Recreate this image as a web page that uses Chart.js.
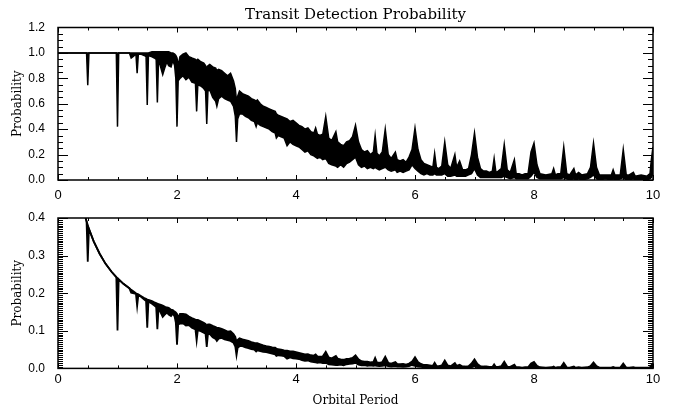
<!DOCTYPE html>
<html>
<head>
<meta charset="utf-8">
<title>Transit Detection Probability</title>
<script src="https://cdn.jsdelivr.net/npm/chart.js@4.4.0/dist/chart.umd.min.js"></script>
<style>
  body { margin: 0; background: #fff; }
  .wrap { position: relative; width: 673px; height: 407px; }
  canvas { position: absolute; left: 0; }
  #topChart { top: 0; }
  #bottomChart { top: 200px; }
</style>
</head>
<body>
<div class="wrap">
  <canvas id="topChart" width="673" height="210"></canvas>
  <canvas id="bottomChart" width="673" height="207"></canvas>
</div>
<script>
// Orbital period (days) sample positions, shared by both panels
const period = [
  0, 0.40, 0.45, 0.48, 0.50, 0.52, 0.60, 0.70, 0.80, 0.90,
  0.98, 1.00, 1.02, 1.10, 1.20, 1.23, 1.26, 1.31, 1.33, 1.35,
  1.40, 1.45, 1.48, 1.50, 1.52, 1.58, 1.62, 1.65, 1.67, 1.69,
  1.73, 1.76, 1.80, 1.83, 1.86, 1.90, 1.93, 1.96, 1.98, 2.00,
  2.02, 2.05, 2.10, 2.15, 2.20, 2.25, 2.31, 2.33, 2.35, 2.40,
  2.45, 2.48, 2.50, 2.52, 2.55, 2.60, 2.65, 2.67, 2.70, 2.75,
  2.80, 2.85, 2.90, 2.95, 2.98, 3.00, 3.02, 3.05, 3.10, 3.15,
  3.20, 3.25, 3.30, 3.33, 3.35, 3.40, 3.45, 3.50, 3.55, 3.60,
  3.65, 3.67, 3.70, 3.75, 3.80, 3.85, 3.90, 3.95, 4.00, 4.05,
  4.10, 4.15, 4.20, 4.25, 4.30, 4.33, 4.36, 4.40, 4.45, 4.50,
  4.55, 4.60, 4.67, 4.70, 4.75, 4.80, 4.85, 4.90, 4.95, 5.00,
  5.05, 5.10, 5.15, 5.20, 5.25, 5.30, 5.33, 5.36, 5.40, 5.45,
  5.50, 5.55, 5.60, 5.67, 5.70, 5.75, 5.80, 5.85, 5.90, 5.95,
  6.00, 6.05, 6.10, 6.15, 6.20, 6.25, 6.30, 6.33, 6.36, 6.40,
  6.45, 6.50, 6.55, 6.60, 6.67, 6.70, 6.75, 6.80, 6.85, 6.90,
  6.95, 7.00, 7.05, 7.10, 7.15, 7.20, 7.25, 7.30, 7.33, 7.36,
  7.40, 7.45, 7.50, 7.55, 7.60, 7.67, 7.70, 7.75, 7.80, 7.85,
  7.90, 7.95, 8.00, 8.05, 8.10, 8.20, 8.30, 8.33, 8.36, 8.40,
  8.45, 8.50, 8.55, 8.60, 8.67, 8.70, 8.75, 8.80, 8.90, 8.95,
  9.00, 9.05, 9.10, 9.20, 9.30, 9.33, 9.36, 9.40, 9.45, 9.50,
  9.55, 9.60, 9.67, 9.70, 9.80, 9.90, 9.95, 9.97, 10.0
]

// Top panel: upper and lower edge of the noisy probability band
const topUpper = [
  1, 1, 1, 1, 1, 1, 1, 1, 1, 1,
  1, 1, 1, 1, 1, 1, 1, 1, 1, 1,
  1, 1, 1, 1, 1, 1.01, 1.01, 1.01, 1.01, 1.01,
  1.01, 1.01, 1.01, 1.01, 1.01, 1.0, 1.0, 0.99, 0.98, 0.96,
  0.90, 0.97, 0.99, 1.00, 0.97, 0.96, 0.95, 0.94, 0.95, 0.93,
  0.92, 0.90, 0.88, 0.90, 0.91, 0.89, 0.88, 0.86, 0.87, 0.86,
  0.84, 0.82, 0.84, 0.78, 0.72, 0.62, 0.66, 0.70, 0.68, 0.67,
  0.66, 0.64, 0.63, 0.62, 0.63, 0.60, 0.58, 0.57, 0.56, 0.55,
  0.54, 0.52, 0.51, 0.50, 0.49, 0.48, 0.46, 0.47, 0.45, 0.43,
  0.42, 0.40, 0.41, 0.38, 0.37, 0.41, 0.36, 0.35, 0.36, 0.50,
  0.33, 0.31, 0.38, 0.30, 0.28, 0.27, 0.30, 0.31, 0.34, 0.43,
  0.30, 0.24, 0.22, 0.23, 0.20, 0.22, 0.35, 0.21, 0.19, 0.22,
  0.40, 0.20, 0.17, 0.22, 0.16, 0.15, 0.16, 0.14, 0.18, 0.24,
  0.41, 0.24, 0.16, 0.13, 0.12, 0.11, 0.10, 0.21, 0.10, 0.09,
  0.11, 0.30, 0.12, 0.09, 0.20, 0.10, 0.15, 0.08, 0.08, 0.09,
  0.20, 0.37, 0.18, 0.09, 0.07, 0.07, 0.06, 0.07, 0.17, 0.06,
  0.07, 0.09, 0.28, 0.08, 0.06, 0.16, 0.05, 0.05, 0.04, 0.05,
  0.05, 0.22, 0.29, 0.12, 0.05, 0.04, 0.05, 0.09, 0.04, 0.05,
  0.05, 0.26, 0.05, 0.04, 0.09, 0.04, 0.06, 0.04, 0.05, 0.10,
  0.29, 0.10, 0.04, 0.04, 0.04, 0.08, 0.04, 0.04, 0.04, 0.24,
  0.04, 0.04, 0.06, 0.03, 0.04, 0.03, 0.05, 0.15, 0.26
]
const topLower = [
  1, 1, 1, 1, 0.745, 1, 1, 1, 1, 1,
  1, 0.42, 1, 1, 1, 0.96, 0.97, 0.99, 0.84, 0.99,
  0.99, 0.98, 0.97, 0.59, 0.98, 0.97, 0.96, 0.95, 0.61, 0.95,
  0.88, 0.83, 0.89, 0.93, 0.90, 0.89, 0.94, 0.90, 0.80, 0.42,
  0.78, 0.80, 0.82, 0.79, 0.81, 0.77, 0.76, 0.54, 0.75, 0.74,
  0.72, 0.70, 0.44, 0.70, 0.71, 0.65, 0.62, 0.58, 0.64, 0.66,
  0.64, 0.63, 0.62, 0.58, 0.50, 0.30, 0.48, 0.52, 0.52, 0.50,
  0.49, 0.47, 0.46, 0.42, 0.45, 0.43, 0.42, 0.41, 0.40, 0.38,
  0.37, 0.33, 0.35, 0.34, 0.33, 0.27, 0.30, 0.28, 0.27, 0.26,
  0.24, 0.22, 0.23, 0.20, 0.19, 0.18, 0.17, 0.18, 0.16, 0.17,
  0.13, 0.12, 0.11, 0.10, 0.12, 0.10, 0.13, 0.14, 0.16, 0.18,
  0.12, 0.10, 0.11, 0.09, 0.10, 0.09, 0.10, 0.09, 0.08, 0.09,
  0.10, 0.08, 0.07, 0.08, 0.06, 0.07, 0.06, 0.07, 0.08, 0.12,
  0.09, 0.07, 0.05, 0.04, 0.05, 0.04, 0.04, 0.05, 0.04, 0.04,
  0.04, 0.05, 0.03, 0.03, 0.04, 0.03, 0.03, 0.03, 0.03, 0.04,
  0.05, 0.09, 0.04, 0.02, 0.02, 0.02, 0.02, 0.02, 0.02, 0.02,
  0.02, 0.02, 0.03, 0.02, 0.01, 0.02, 0.01, 0.01, 0.01, 0.01,
  0.01, 0.03, 0.06, 0.02, 0.01, 0.01, 0.01, 0.01, 0.01, 0.01,
  0.01, 0.02, 0.01, 0.00, 0.01, 0.00, 0.01, 0.00, 0.01, 0.02,
  0.04, 0.01, 0.00, 0.01, 0.00, 0.01, 0.00, 0.00, 0.01, 0.02,
  0.00, 0.00, 0.01, 0.00, 0.00, 0.00, 0.01, 0.02, 0.05
]

// Bottom panel: same band including geometric transit probability
const bottomUpper = [
  null, 0.442, 0.409, 0.391, 0.381, 0.371, 0.338, 0.305, 0.278, 0.257,
  0.243, 0.240, 0.237, 0.225, 0.213, 0.209, 0.206, 0.200, 0.198, 0.197,
  0.192, 0.187, 0.185, 0.183, 0.182, 0.179, 0.176, 0.174, 0.172, 0.171,
  0.169, 0.167, 0.164, 0.162, 0.161, 0.156, 0.155, 0.151, 0.149, 0.145,
  0.135, 0.145, 0.145, 0.144, 0.138, 0.134, 0.130, 0.129, 0.129, 0.125,
  0.121, 0.118, 0.114, 0.117, 0.117, 0.113, 0.110, 0.108, 0.108, 0.105,
  0.102, 0.098, 0.099, 0.091, 0.084, 0.071, 0.076, 0.080, 0.077, 0.075,
  0.073, 0.070, 0.068, 0.067, 0.067, 0.064, 0.061, 0.059, 0.058, 0.056,
  0.055, 0.053, 0.051, 0.050, 0.048, 0.047, 0.045, 0.045, 0.043, 0.041,
  0.039, 0.037, 0.038, 0.035, 0.034, 0.037, 0.032, 0.031, 0.032, 0.044,
  0.029, 0.027, 0.033, 0.026, 0.024, 0.023, 0.025, 0.026, 0.028, 0.035,
  0.024, 0.019, 0.018, 0.018, 0.016, 0.017, 0.028, 0.016, 0.015, 0.017,
  0.031, 0.015, 0.013, 0.017, 0.012, 0.011, 0.012, 0.010, 0.013, 0.018,
  0.030, 0.017, 0.012, 0.009, 0.009, 0.008, 0.007, 0.015, 0.007, 0.006,
  0.008, 0.021, 0.008, 0.006, 0.014, 0.007, 0.010, 0.005, 0.005, 0.006,
  0.013, 0.024, 0.012, 0.006, 0.005, 0.005, 0.004, 0.004, 0.011, 0.004,
  0.004, 0.006, 0.018, 0.005, 0.004, 0.010, 0.003, 0.003, 0.002, 0.003,
  0.003, 0.013, 0.017, 0.007, 0.003, 0.002, 0.003, 0.005, 0.002, 0.003,
  0.003, 0.015, 0.003, 0.002, 0.005, 0.002, 0.003, 0.002, 0.003, 0.006,
  0.016, 0.006, 0.002, 0.002, 0.002, 0.004, 0.002, 0.002, 0.002, 0.013,
  0.002, 0.002, 0.003, 0.002, 0.002, 0.002, 0.003, 0.008, 0.013
]
const bottomLower = [
  null, 0.442, 0.409, 0.391, 0.284, 0.371, 0.338, 0.305, 0.278, 0.257,
  0.243, 0.101, 0.237, 0.225, 0.213, 0.201, 0.200, 0.198, 0.166, 0.195,
  0.190, 0.183, 0.179, 0.108, 0.178, 0.172, 0.167, 0.163, 0.104, 0.161,
  0.147, 0.137, 0.144, 0.149, 0.143, 0.139, 0.146, 0.138, 0.122, 0.063,
  0.117, 0.119, 0.120, 0.114, 0.115, 0.108, 0.104, 0.074, 0.102, 0.099,
  0.095, 0.092, 0.057, 0.091, 0.092, 0.083, 0.078, 0.073, 0.079, 0.081,
  0.077, 0.075, 0.073, 0.068, 0.058, 0.035, 0.055, 0.059, 0.059, 0.056,
  0.054, 0.051, 0.050, 0.045, 0.048, 0.046, 0.044, 0.043, 0.041, 0.039,
  0.037, 0.033, 0.035, 0.034, 0.033, 0.026, 0.029, 0.027, 0.026, 0.025,
  0.022, 0.020, 0.021, 0.018, 0.017, 0.016, 0.015, 0.016, 0.014, 0.015,
  0.011, 0.010, 0.009, 0.009, 0.010, 0.008, 0.011, 0.012, 0.013, 0.015,
  0.010, 0.008, 0.009, 0.007, 0.008, 0.007, 0.008, 0.007, 0.006, 0.007,
  0.008, 0.006, 0.005, 0.006, 0.005, 0.005, 0.004, 0.005, 0.006, 0.009,
  0.007, 0.005, 0.004, 0.003, 0.004, 0.003, 0.003, 0.004, 0.003, 0.003,
  0.003, 0.003, 0.002, 0.002, 0.003, 0.002, 0.002, 0.002, 0.002, 0.003,
  0.003, 0.006, 0.003, 0.001, 0.001, 0.001, 0.001, 0.001, 0.001, 0.001,
  0.001, 0.001, 0.002, 0.001, 0.001, 0.001, 0.001, 0.001, 0.001, 0.001,
  0.001, 0.002, 0.004, 0.001, 0.001, 0.001, 0.001, 0.001, 0.001, 0.001,
  0.001, 0.001, 0.001, 0, 0.001, 0, 0.001, 0, 0.001, 0.001,
  0.002, 0.001, 0, 0.001, 0, 0.001, 0, 0, 0.001, 0.001,
  0, 0, 0.001, 0, 0, 0, 0.001, 0.001, 0.003
]

// Axis ticks
const xTicks = [0, 2, 4, 6, 8, 10]
const topYTicks = [0, 0.2, 0.4, 0.6, 0.8, 1.0, 1.2]
const bottomYTicks = [0, 0.1, 0.2, 0.3, 0.4]

Chart.defaults.font.family = "'Liberation Sans', Arial, sans-serif"
Chart.defaults.color = '#000'

// IDL style frame: box round the plot, inward major/minor ticks on all sides
const idlAxes = {
  id: 'idlAxes',
  afterDraw(chart, args, opts) {
    const { ctx, chartArea: a, scales } = chart
    const x = scales.x
    const y = scales.y
    ctx.save()
    ctx.strokeStyle = '#000'
    ctx.lineWidth = 1
    ctx.beginPath()
    const nx = Math.round((x.max - x.min) / opts.xMinor)
    for (let i = 0; i <= nx; i++) {
      const v = x.min + i * opts.xMinor
      const px = Math.round(x.getPixelForValue(v)) + 0.5
      const len = xTicks.some(t => Math.abs(t - v) < 1e-6) ? 5 : 3
      ctx.moveTo(px, a.bottom); ctx.lineTo(px, a.bottom - len)
      ctx.moveTo(px, a.top); ctx.lineTo(px, a.top + len)
    }
    const ny = Math.round((y.max - y.min) / opts.yMinor)
    for (let i = 0; i <= ny; i++) {
      const v = y.min + i * opts.yMinor
      const py = Math.round(y.getPixelForValue(v)) + 0.5
      const len = opts.yMajor.some(t => Math.abs(t - v) < 1e-6) ? 10 : 5
      ctx.moveTo(a.left, py); ctx.lineTo(a.left + len, py)
      ctx.moveTo(a.right, py); ctx.lineTo(a.right - len, py)
    }
    ctx.stroke()
    ctx.lineWidth = 1.5
    ctx.strokeRect(a.left, a.top, a.right - a.left, a.bottom - a.top)
    ctx.restore()
  },
}

function bandDatasets(upper, lower, width) {
  return [
    {
      data: period.map((p, i) => ({ x: p, y: upper[i] })),
      borderColor: '#000',
      backgroundColor: '#000',
      borderWidth: width,
      fill: '+1',
    },
    {
      data: period.map((p, i) => ({ x: p, y: lower[i] })),
      borderColor: '#000',
      borderWidth: width,
      fill: false,
    },
  ]
}

function makeOptions(yMax, yTicks, yMinor, xHeight, xPad, withXTitle) {
  return {
    responsive: false,
    animation: false,
    devicePixelRatio: 1,
    elements: { point: { radius: 0 }, line: { tension: 0 } },
    layout: { padding: { left: 0, right: 20, top: withXTitle ? 18 : 0, bottom: 0 } },
    scales: {
      x: {
        type: 'linear',
        min: 0,
        max: 10,
        afterBuildTicks: s => { s.ticks = xTicks.map(v => ({ value: v })) },
        afterFit: s => { s.height = xHeight },
        grid: { display: false },
        border: { display: false },
        ticks: { padding: xPad, autoSkip: false, maxRotation: 0, font: { size: 13 }, callback: v => String(v) },
        title: {
          display: withXTitle,
          text: 'Orbital Period',
          font: { family: "'DejaVu Serif', serif", size: 12 },
          padding: { top: 0, bottom: -1 },
        },
      },
      y: {
        type: 'linear',
        min: 0,
        max: yMax,
        afterBuildTicks: s => { s.ticks = yTicks.map(v => ({ value: v })) },
        afterFit: s => { s.width = 58 },
        grid: { display: false },
        border: { display: false },
        ticks: { padding: 5, autoSkip: false, font: { size: 12 }, callback: v => v.toFixed(1) },
        title: {
          display: true,
          text: 'Probability',
          font: { family: "'DejaVu Serif', serif", size: 12 },
          padding: 11,
        },
      },
    },
    plugins: {
      legend: { display: false },
      tooltip: { enabled: false },
      idlAxes: { xMinor: 0.5, yMinor: yMinor, yMajor: yTicks },
    },
  }
}

const topOptions = makeOptions(1.2, topYTicks, 0.05, 30, 0, false)
topOptions.plugins.title = {
  display: true,
  text: 'Transit Detection Probability',
  fullSize: false,
  color: '#000',
  font: { family: "'DejaVu Serif', serif", size: 15, weight: 'normal' },
  padding: { top: 6, bottom: 3.5 },
}

new Chart(document.getElementById('topChart'), {
  type: 'line',
  data: { datasets: bandDatasets(topUpper, topLower, 1.5) },
  options: topOptions,
  plugins: [idlAxes],
})

new Chart(document.getElementById('bottomChart'), {
  type: 'line',
  data: { datasets: bandDatasets(bottomUpper, bottomLower, 1.8) },
  options: makeOptions(0.4, bottomYTicks, 0.005, 38.6, -5, true),
  plugins: [idlAxes],
})
</script>
</body>
</html>
